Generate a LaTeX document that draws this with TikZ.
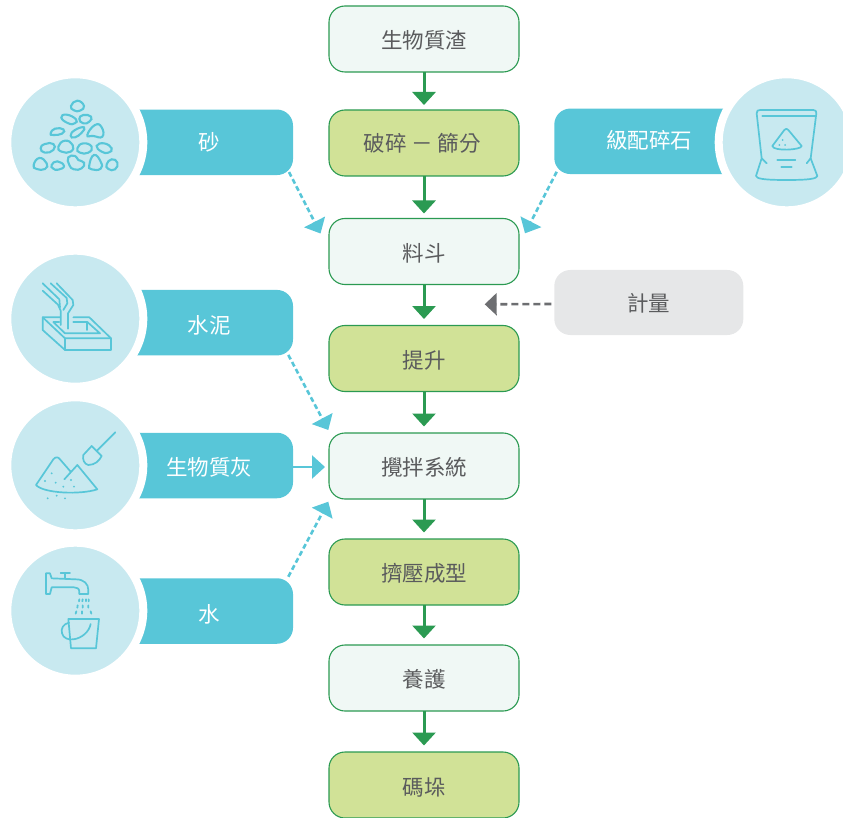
\documentclass[tikz,border=0pt]{standalone}
\usepackage{fontspec}
\setmainfont{Noto Sans CJK TC}
\usetikzlibrary{arrows.meta,calc,backgrounds}
\definecolor{flowgreen}{HTML}{2B9A52}
\definecolor{paleface}{HTML}{F0F8F5}
\definecolor{limeface}{HTML}{D1E297}
\definecolor{tabblue}{HTML}{58C6D8}
\definecolor{disc}{HTML}{C8E9F0}
\definecolor{greyface}{HTML}{E6E7E8}
\definecolor{greyline}{HTML}{6D6E71}
\definecolor{inktext}{HTML}{5A5B5D}
\tikzset{
  x=1pt,y=-1pt,
  every node/.style={inner sep=0pt,outer sep=0pt,font=\fontsize{21.5}{24}\selectfont},
  drop/.style={text height=#1pt,text depth=0pt},
  base/.style={minimum width=190pt,minimum height=66pt,rounded corners=16pt,draw=flowgreen,line width=1.1pt,text=inktext},
  palebox/.style={base,fill=paleface},
  limebox/.style={base,fill=limeface},
  tab/.style={text=white,minimum height=65.5pt},
  greybox/.style={minimum width=189pt,minimum height=65pt,rounded corners=16pt,fill=greyface,text=inktext},
  disk/.style={circle,minimum size=136pt,fill=disc,draw=white,line width=8pt},
  flow/.style={draw=flowgreen,line width=3pt,-{Triangle[length=13pt,width=23pt]},shorten >=#1},
  flow/.default=6.5pt,
  feed/.style={draw=tabblue,line width=2.6pt,dash pattern=on 5pt off 3pt,-{Triangle[length=13pt,width=23pt]}},
  solidfeed/.style={draw=tabblue,line width=2.6pt,-{Triangle[length=13pt,width=23pt]}},
  meter/.style={draw=greyline,line width=2.6pt,dash pattern=on 7pt off 4pt,-{Triangle[length=12pt,width=22pt]}},
  ico/.style={draw=tabblue,line width=1.7pt,line cap=round,line join=round},
  rock/.style={draw=tabblue,line width=2.1pt},
  zoomA/.style={x=.33333pt,y=-.33333pt,shift={(0pt,-70pt)}},
  zoomB/.style={x=.33333pt,y=-.33333pt,shift={(0pt,-390pt)}},
  zoomC/.style={x=.33333pt,y=-.33333pt,shift={(540pt,-70pt)}},
  zoomD/.style={x=.33333pt,y=-.33333pt,shift={(30pt,-270pt)}},
}
\begin{document}
\begin{tikzpicture}
\useasboundingbox (0,0) rectangle (843,818);
% main column
\node[palebox,drop=18.4] (n1) at (424,39) {生物質渣};
\node[limebox,drop=16.4] (n2) at (424,143) {破碎 － 篩分\hspace*{3.5pt}};
\node[palebox,drop=19.4] (n3) at (424,251.5) {料斗};
\node[limebox,drop=19.4] (n4) at (424,358.5) {提升};
\node[palebox,drop=18.4] (n5) at (424,466) {攪拌系統};
\node[limebox,drop=18.4] (n6) at (424,572) {擠壓成型};
\node[palebox,drop=18.4] (n7) at (424,678) {養護};
\node[limebox,drop=20.4] (n8) at (424,785) {碼垛};
\draw[flow=5pt] (n1.south) -- (n2.north);
\draw[flow=5pt] (n2.south) -- (n3.north);
\draw[flow] (n3.south) -- (n4.north);
\draw[flow] (n4.south) -- (n5.north);
\draw[flow] (n5.south) -- (n6.north);
\draw[flow] (n6.south) -- (n7.north);
\draw[flow] (n7.south) -- (n8.north);
% tabs
\node[tab,minimum width=168pt,drop=16.4] (t1) at (209,142.3) {砂};
\node[tab,minimum width=168pt,drop=21] (t2) at (209,322.7) {水泥};
\node[tab,minimum width=168pt,drop=19.4] (t3) at (209,465.5) {生物質灰};
\node[tab,minimum width=168pt,drop=22.4] (t4) at (209,611) {水};
\node[tab,minimum width=187.4pt,drop=14.4] (t5) at (648,141.3) {\hspace*{2pt}級配碎石};
\node[greybox,drop=17.4] (m) at (648.8,302.5) {計量};
\begin{pgfonlayer}{background}
\foreach \t in {t1,t2,t3,t4}{
  \fill[tabblue] (\t.south west) -- (\t.north west) -- ([xshift=-16pt]\t.north east)
    arc[start angle=90,end angle=0,radius=16pt] -- ([yshift=16pt]\t.south east)
    arc[start angle=0,end angle=-90,radius=16pt] -- cycle;
}
\fill[tabblue] (t5.south east) -- (t5.north east) -- ([xshift=16pt]t5.north west)
    arc[start angle=90,end angle=180,radius=16pt] -- ([yshift=16pt]t5.south west)
    arc[start angle=180,end angle=270,radius=16pt] -- cycle;
\end{pgfonlayer}
% discs
\node[disk] (d1) at (75.3,142.3) {};
\node[disk] (d2) at (75.3,318.7) {};
\node[disk] (d3) at (75.3,465.3) {};
\node[disk] (d4) at (75.3,610.7) {};
\node[disk] (d5) at (786.7,142.3) {};
% connectors
\coordinate (f1a) at ($(t1.south east)+(-4,-3)$);
\coordinate (f1b) at ($(n3.north west)+(-8.5,15)$);
\coordinate (f5a) at ($(t5.south west)+(2.4,-2.3)$);
\coordinate (f5b) at ($(n3.north east)+(6,14.8)$);
\coordinate (f2a) at ($(t2.south east)+(-4.7,-.5)$);
\coordinate (f2b) at ($(n5.north west)+(-.7,-3)$);
\coordinate (f4a) at ($(t4.north east)+(-4.7,-1.5)$);
\coordinate (f4b) at ($(n5.south west)+(-.7,2.7)$);
\coordinate (f3a) at ($(t3.east)+(0,1.5)$);
\coordinate (f3b) at ($(n5.west)+(-4,1)$);
\coordinate (m1) at ($(m.west)+(-3,1.5)$);
\coordinate (m2) at ($(m.west)+(-69.6,1.8)$);
\draw[feed] (f1a) -- (f1b);
\draw[feed] (f5a) -- (f5b);
\draw[feed] (f2a) -- (f2b);
\draw[feed] (f4a) -- (f4b);
\draw[solidfeed] (f3a) -- (f3b);
\draw[meter] (m1) -- (m2);
% sand icon
\begin{scope}[zoomA]
\foreach \p in {
 {(232,92)(252,108)(240,122)(222,121)(213,108)},
 {(184,143)(200,134)(228,148)(224,160)(205,160)},
 {(238,147)(250,135)(273,140)(268,155)(250,160)},
 {(152,190)(165,176)(190,178)(186,191)(160,195)},
 {(212,197)(225,180)(252,172)(245,188)(225,202)},
 {(262,195)(285,165)(305,172)(307,200)(280,198)},
 {(122,235)(135,222)(160,222)(160,240)(135,248)},
 {(175,230)(195,212)(218,225)(212,245)(185,245)},
 {(232,235)(250,220)(275,230)(265,248)(240,248)},
 {(290,228)(312,220)(335,235)(325,248)(305,245)},
 {(101,285)(118,264)(140,280)(135,297)(110,297)},
 {(155,285)(172,274)(192,288)(175,299)(160,296)},
 {(205,262)(225,258)(235,270)(252,278)(245,295)(222,298)(208,285)},
 {(268,285)(282,255)(302,275)(302,296)(275,298)},
 {(320,283)(335,268)(352,278)(345,298)(325,297)}}{
  \draw[rock] plot[smooth cycle,tension=.9] coordinates {\p};
}
\end{scope}
% cement icon
\begin{scope}[zoomD]
\draw[ico] (38,40) -- (88,88) -- (90,112);
\draw[ico] (38,62) -- (84,104) -- (92,122) -- (92,165);
\draw[ico] (62,40) -- (110,84) -- (112,100) -- (100,120);
\draw[ico] (80,40) -- (128,90) -- (130,105) -- (114,130) -- (114,176);
\draw[ico] (90,142) -- (38,142) -- (38,180) -- (105,240) -- (243,240) -- (243,205) -- (178,142) -- (130,142);
\draw[ico] (38,142) -- (105,205) -- (243,205);
\draw[ico] (105,205) -- (105,240);
\draw[ico] (88,156) -- (70,156) -- (105,190) -- (210,190) -- (172,156) -- (130,156);
\draw[ico] (172,158) -- (172,180);
\end{scope}
% ash icon and tap
\begin{scope}[zoomB]
\draw[ico] (346,127) -- (290,183);
\draw[ico] (275,168) -- (305,198) .. controls (298,212) and (285,225) .. (265,225) .. controls (252,222) and (247,208) .. (250,195) -- cycle;
\draw[ico] (193,268) -- (232,225) -- (292,298) .. controls (240,315) and (130,310) .. (108,285) -- (160,208) .. controls (166,200) and (175,200) .. (180,208) -- (212,245);
\foreach \q in {(155,250),(135,273),(167,278),(213,270),(222,290),(190,290),(143,325),(170,317),(195,325)}{
  \fill[tabblue] \q circle[radius=3.2];
}
\draw[ico] (138,550) -- (150,550) -- (155,565) -- (228,568) .. controls (252,568) and (265,582) .. (265,600) -- (265,612) -- (238,612) -- (238,605) .. controls (238,595) and (230,592) .. (222,592) -- (155,592) -- (150,612) -- (138,612) -- cycle;
\draw[ico] (182,550) -- (210,550);
\draw[ico] (196,550) -- (196,566);
\draw[tabblue,line width=1.8pt,line cap=round] (238,628)--(237,634) (248,628)--(247,634) (258,628)--(258,634) (266,628)--(266,634)
 (233,646)--(232,653) (248,646)--(248,653) (265,646)--(265,653)
 (229,664)--(227,671) (246,664)--(246,671) (272,664)--(274,671);
\draw[ico] (205,687) -- (297,687) -- (288,775) -- (213,775) -- cycle;
\draw[ico] (207,698) .. controls (190,702) and (182,715) .. (186,730) .. controls (190,745) and (205,750) .. (220,748) .. controls (245,745) and (268,725) .. (272,702);
\end{scope}
% bag icon
\begin{scope}[zoomC]
\draw[ico] (665,265) -- (650,130) .. controls (650,122) and (654,120) .. (660,120) -- (820,120) .. controls (827,120) and (830,124) .. (829,130) -- (812,265) -- (832,318) .. controls (830,326) and (810,330) .. (740,330) .. controls (670,330) and (650,326) .. (648,318) -- cycle;
\draw[ico] (667,138) -- (825,138);
\draw[ico] (665,265) -- (680,280);
\draw[ico] (812,265) -- (800,280);
\draw[ico] (697,228) -- (733,180) .. controls (737,175) and (741,175) .. (745,180) -- (785,228) .. controls (785,240) and (700,245) .. (697,228) -- cycle;
\fill[tabblue] (728,210) circle[radius=3] (718,225) circle[radius=3] (735,225) circle[radius=3];
\draw[ico] (712,270) -- (766,270);
\draw[ico] (724,292) -- (755,292);
\end{scope}
\end{tikzpicture}
\end{document}
